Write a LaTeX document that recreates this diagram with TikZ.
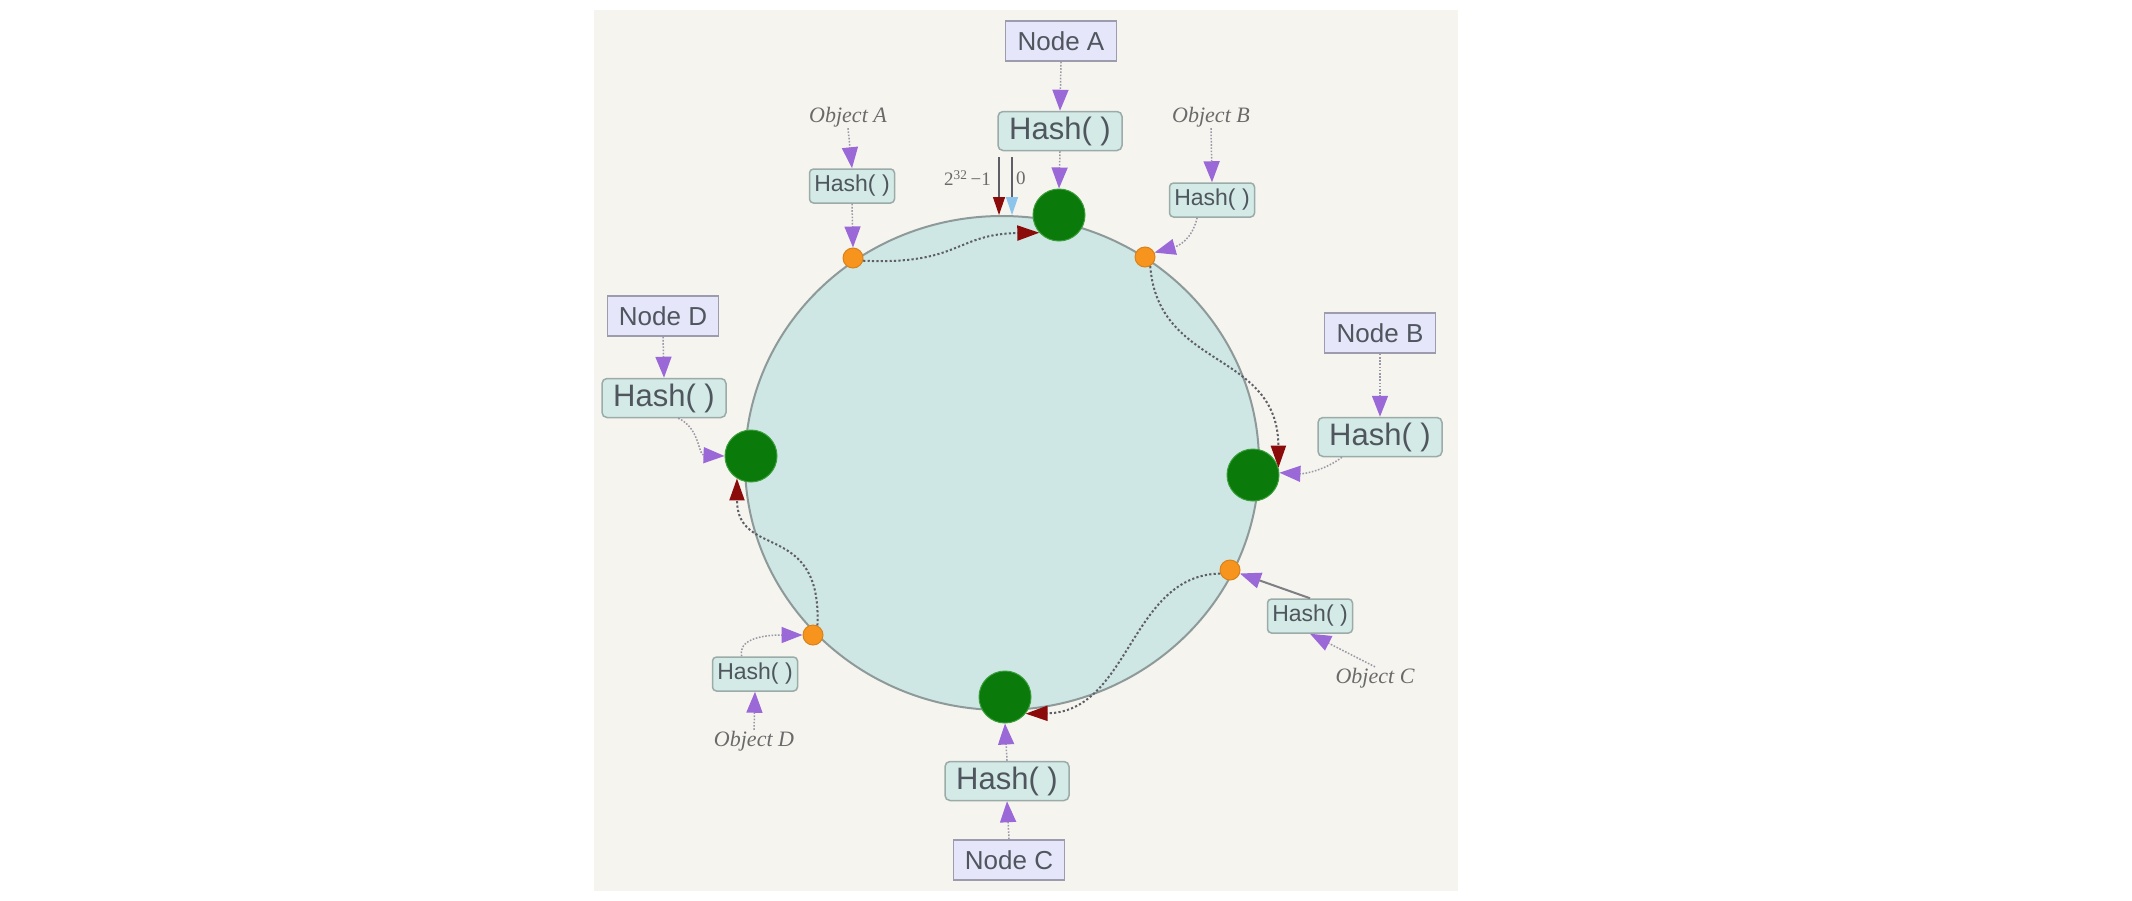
\documentclass[tikz,border=0pt]{standalone}
\usepackage{fontspec}
\setmainfont{Liberation Sans}
\newfontfamily\seriffam{Liberation Serif}
\usetikzlibrary{arrows.meta,shapes.geometric}
\definecolor{bgbeige}{HTML}{F6F4EF}
\definecolor{ringfill}{HTML}{CFE7E4}
\definecolor{ringline}{HTML}{8E9A99}
\definecolor{nodefill}{HTML}{E6E6FA}
\definecolor{nodeline}{HTML}{9C9CAE}
\definecolor{hashfill}{HTML}{D3EAE6}
\definecolor{hashline}{HTML}{9AABA8}
\definecolor{txt}{HTML}{4F565E}
\definecolor{objtxt}{HTML}{6A6A6A}
\definecolor{purp}{HTML}{9B68D8}
\definecolor{darkred}{HTML}{8B0A0A}
\definecolor{lblue}{HTML}{8CC4EC}
\definecolor{gfill}{HTML}{0A7A0A}
\definecolor{gline}{HTML}{3A9E3A}
\definecolor{ofill}{HTML}{F7941D}
\definecolor{oline}{HTML}{D9821A}
\definecolor{dotline}{HTML}{9A98A6}
\definecolor{flowline}{HTML}{5E5E66}
\begin{document}
\begin{tikzpicture}[x=1pt,y=-1pt,
  nodebox/.style={draw=nodeline, fill=nodefill, line width=1.5pt, minimum width=111pt, minimum height=40pt, inner sep=0pt, text=txt, font=\fontsize{26}{30}\selectfont},
  bighash/.style={draw=hashline, fill=hashfill, line width=1.5pt, rounded corners=5pt, minimum width=124pt, minimum height=39pt, inner sep=0pt, text=txt, font=\fontsize{31}{36}\selectfont},
  smallhash/.style={draw=hashline, fill=hashfill, line width=1.5pt, rounded corners=4pt, minimum width=85pt, minimum height=34pt, inner sep=0pt, text=txt, font=\fontsize{23}{27}\selectfont},
  objlabel/.style={inner sep=1pt, text=objtxt, font=\seriffam\itshape\fontsize{22}{26}\selectfont},
  gnode/.style={circle, fill=gfill, draw=gline, line width=1pt, minimum size=52pt, inner sep=0pt},
  onode/.style={circle, fill=ofill, draw=oline, line width=1pt, minimum size=20pt, inner sep=0pt},
  parrow/.style={draw=dotline, line width=1.5pt, dash pattern=on 1.6pt off 1.6pt, -{Triangle[length=21pt,width=16pt,color=purp]}},
  psolid/.style={draw=flowline!80, line width=2pt, -{Triangle[length=21pt,width=16pt,color=purp]}},
  flow/.style={draw=flowline, line width=2pt, dash pattern=on 2.2pt off 2.2pt, -{Triangle[length=22pt,width=15pt,color=darkred]}},
  zeroline/.style={draw=flowline, line width=1.2pt}
]
\useasboundingbox (0,0) rectangle (2132,900);
\fill[white] (0,0) rectangle (2132,900);
\fill[bgbeige] (594,10) rectangle (1458,891);

\node[ellipse, draw=ringline, fill=ringfill, line width=2pt, minimum width=514pt, minimum height=494pt, inner sep=0pt] (ring) at (1002,463) {};

% Node A
\node[nodebox] (na) at (1061,41) {Node A};
\node[bighash] (ha) at (1060,131) {Hash( )};
\node[gnode] (ga) at (1059,215) {};
% Object A
\node[objlabel] (obja) at (848,117) {Object A};
\node[smallhash] (hoa) at (852,186) {Hash( )};
\node[onode] (oa) at (853,258) {};
% Object B
\node[objlabel] (objb) at (1211,117) {Object B};
\node[smallhash] (hob) at (1212,200) {Hash( )};
\node[onode] (ob) at (1145,257) {};
% Node B
\node[nodebox] (nb) at (1380,333) {Node B};
\node[bighash] (hb) at (1380,437) {Hash( )};
\node[gnode] (gb) at (1253,475) {};
% Node D
\node[nodebox] (nd) at (663,316) {Node D};
\node[bighash] (hd) at (664,398) {Hash( )};
\node[gnode] (gd) at (751,456) {};
% Object C
\node[onode] (oc) at (1230,570) {};
\node[smallhash] (hoc) at (1310,616) {Hash( )};
\node[objlabel] (objc) at (1375,678) {Object C};
% Object D
\node[onode] (od) at (813,635) {};
\node[smallhash] (hod) at (755,674) {Hash( )};
\node[objlabel] (objd) at (754,741) {Object D};
% Node C
\node[gnode] (gc) at (1005,697) {};
\node[bighash] (hc) at (1007,781) {Hash( )};
\node[nodebox] (nc) at (1009,860) {Node C};

% 2^32-1 / 0 markers
\node[anchor=east, inner sep=0pt, text=objtxt, font=\seriffam\fontsize{19}{22}\selectfont] (lmax) at (991,178) {2\textsuperscript{32}\,−1};
\node[anchor=west, inner sep=0pt, text=objtxt, font=\seriffam\fontsize{19}{22}\selectfont] (lzero) at (1016,178) {0};
\coordinate (zmax) at (999,157);
\coordinate (zzero) at (1012,157);
\draw[zeroline, -{Triangle[length=18pt,width=12pt,color=darkred]}] (zmax) -- (zmax |- ring.north);
\draw[zeroline, -{Triangle[length=18pt,width=12pt,color=lblue]}] (zzero) -- (zzero |- ring.north);

% purple hash arrows
\draw[parrow] (na.south) -- (ha.north);
\draw[parrow] (ha.south) -- (ga.north);
\draw[parrow] (obja.south) -- (hoa.north);
\draw[parrow] (hoa.south) -- (oa.north);
\draw[parrow] (objb.south) -- (hob.north);
\draw[parrow] (hob.230) .. controls (1192,240) and (1178,246) .. (ob.25);
\draw[parrow] (nb.south) -- (hb.north);
\draw[parrow] (hb.208) .. controls (1325,470) and (1305,474) .. (gb.5);
\draw[parrow] (nd.south) -- (hd.north);
\draw[parrow] (hd.-55) .. controls (700,428) and (698,455) .. (gd.west);
\draw[parrow] (objc.north) -- (hoc.south);
\draw[psolid] (hoc.north) -- (oc);
\draw[parrow] (objd.north) -- (hod.south);
\draw[parrow] (hod.127) .. controls (738,640) and (760,635) .. (od.west);
\draw[parrow] (nc.north) -- (hc.south);
\draw[parrow] (hc.north) -- (gc.south);

% clockwise assignment flows
\draw[flow] (oa.-15) .. controls (960,265) and (955,234) .. (ga.222);
\draw[flow] (ob.-60) .. controls (1158,370) and (1278,350) .. (gb.16);
\draw[flow] (oc.200) .. controls (1130,575) and (1130,712) .. (gc.-39);
\draw[flow] (od.65) .. controls (822,520) and (737,560) .. (gd.238);
\end{tikzpicture}
\end{document}
